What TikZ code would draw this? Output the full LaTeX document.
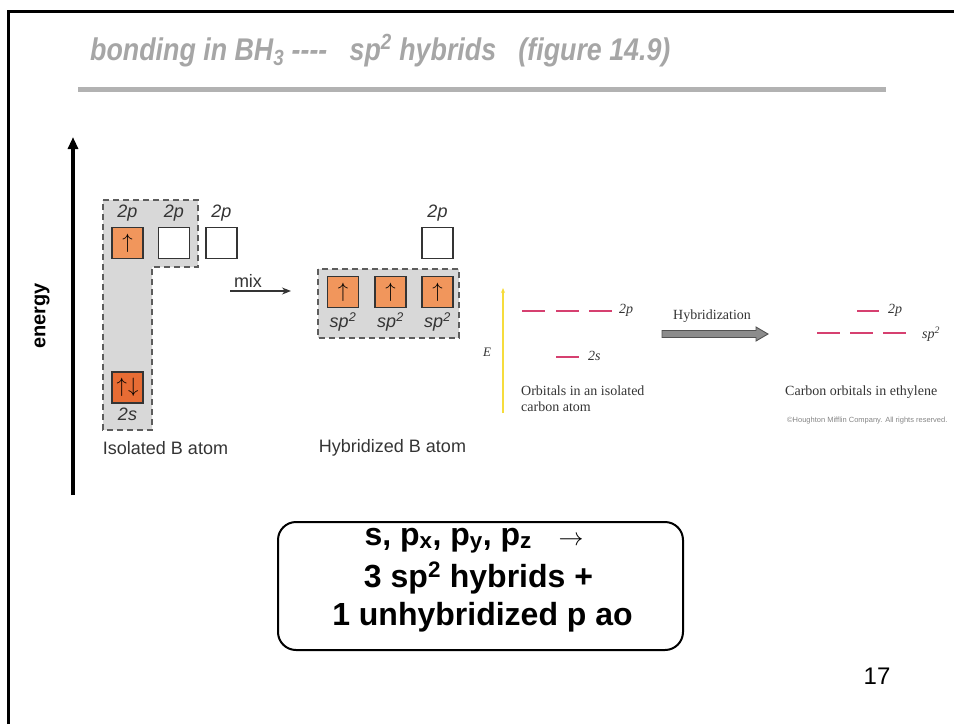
\documentclass[tikz,border=0pt]{standalone}
\usepackage{fontspec}
\setmainfont{Liberation Sans}
\newfontfamily\serif{Liberation Serif}
\usetikzlibrary{arrows.meta}

\definecolor{titlegray}{RGB}{166,166,166}
\definecolor{bargray}{RGB}{178,178,178}
\definecolor{shade}{RGB}{216,216,216}
\definecolor{orangeL}{RGB}{241,150,92}
\definecolor{orangeD}{RGB}{231,108,52}
\definecolor{ink}{RGB}{52,52,52}
\definecolor{levelred}{RGB}{214,64,112}
\definecolor{axisyellow}{RGB}{246,220,60}
\definecolor{blockgray}{RGB}{140,140,140}

\tikzset{
  orb/.style={draw=ink, line width=1.3pt, minimum size=31pt, inner sep=0pt,
              font=\fontsize{20}{20}\selectfont},
  lbl/.style={text=ink, inner sep=0pt, font=\fontsize{18}{20}\selectfont},
  hybregion/.style={fill=shade, draw=ink!80, line width=1.3pt, dash pattern=on 6pt off 4pt},
  level/.style={draw=levelred, line width=1.6pt},
  small/.style={inner sep=0pt, text=ink, font=\serif\fontsize{14}{16}\selectfont},
  bold24/.style={inner sep=0pt, font=\bfseries\fontsize{32}{38}\selectfont},
}

\begin{document}
\begin{tikzpicture}[x=1pt,y=-1pt]
\useasboundingbox (0,0) rectangle (954,724);

% slide frame
\draw[line width=3pt] (8,724) -- (8,11) -- (954,11);

% heading and rule
\node[anchor=base west, inner sep=0pt, text=titlegray,
      font=\bfseries\itshape\fontsize{26.8}{30}\selectfont] (title) at (90,60)
  {\scalebox{1}[1.17]{bonding in BH\textsubscript{3}\ -{}-{}-{}-\ \ \ sp\textsuperscript{2} hybrids\ \ \ (figure 14.9)}};
\draw[bargray, line width=5.5pt] (78,89.5) -- (886,89.5);

% energy axis
\coordinate (ebot) at (73,495);
\coordinate (etop) at (73,137);
\draw[line width=3.5pt, -{Triangle[length=12pt,width=10pt]}] (ebot) -- (etop);
\node[rotate=90, inner sep=0pt, font=\bfseries\fontsize{20}{20}\selectfont] (elabel) at (42,316) {energy};

% isolated B atom: shaded orbitals that mix
\draw[hybregion] (103,200) -- (198,200) -- (198,267) -- (152,267) -- (152,430) -- (103,430) -- cycle;
\node[orb, fill=orangeL] (p1) at (127.5,243) {$\uparrow$};
\node[orb, fill=white]   (p2) at (174,243) {};
\node[orb, fill=white]   (p3) at (221.5,243) {};
\node[orb, fill=orangeD] (s)  at (127.5,387.5) {$\uparrow\mkern1mu\downarrow$};
\node[lbl, font=\itshape\fontsize{18}{20}\selectfont] (lp1) at (127.5,213) {2p};
\node[lbl, font=\itshape\fontsize{18}{20}\selectfont] (lp2) at (174,213) {2p};
\node[lbl, font=\itshape\fontsize{18}{20}\selectfont] (lp3) at (221.5,213) {2p};
\node[lbl, font=\itshape\fontsize{18}{20}\selectfont] (ls)  at (127.5,414) {2s};
\node[lbl] (iso) at (165.5,448) {Isolated B atom};

% mixing arrow
\coordinate (mixa) at (230,291);
\coordinate (mixb) at (291,291);
\draw[ink, line width=1.3pt, -{Stealth[length=9pt,width=7pt]}] (mixa) -- (mixb);
\node[lbl] (mix) at (248,281) {mix};

% hybridized B atom
\draw[hybregion] (318,269) rectangle (459,338);
\node[orb, fill=orangeL] (h1) at (343,292) {$\uparrow$};
\node[orb, fill=orangeL] (h2) at (390.5,292) {$\uparrow$};
\node[orb, fill=orangeL] (h3) at (437.5,292) {$\uparrow$};
\node[orb, fill=white]   (pz) at (437.5,243) {};
\node[lbl, font=\itshape\fontsize{18}{20}\selectfont] (lpz) at (437.5,213) {2p};
\foreach \n/\x in {sa/343, sb/390.5, sc/437.5}
  \node[lbl, font=\itshape\fontsize{18}{20}\selectfont] (\n) at (\x,322) {sp\textsuperscript{2}};
\node[lbl] (hyb) at (392.5,448) {Hybridized B atom};

% carbon: isolated atom levels
\coordinate (ya) at (503,413);
\coordinate (yb) at (503,288);
\draw[axisyellow, line width=1.3pt, -{Stealth[length=5pt,width=4pt]}] (ya) -- (yb);
\node[small, font=\serif\itshape\fontsize{13}{14}\selectfont] (E) at (487,352) {E};
\foreach \a in {522,556,589}
  \draw[level] (\a,311) -- ++(23,0);
\draw[level] (556,357) -- ++(23,0);
\node[small, anchor=west, font=\serif\itshape\fontsize{14}{16}\selectfont] (c2p) at (619,310) {2p};
\node[small, anchor=west, font=\serif\itshape\fontsize{14}{16}\selectfont] (c2s) at (588,356) {2s};
\node[small, anchor=west] (orb1) at (521,391) {Orbitals in an isolated};
\node[small, anchor=west] (orb2) at (521,407) {carbon atom};

% hybridization block arrow
\node[small, anchor=west] (hlab) at (673,316) {Hybridization};
\draw[fill=blockgray, draw=ink!85, line width=0.9pt]
  (662,330.5) -- (756,330.5) -- (756,327) -- (768,334) -- (756,341) -- (756,337.5) -- (662,337.5) -- cycle;

% carbon: orbitals in ethylene
\draw[level] (857,311) -- ++(22,0);
\foreach \a in {817,850,883}
  \draw[level] (\a,333) -- ++(23,0);
\node[small, anchor=west, font=\serif\itshape\fontsize{14}{16}\selectfont] (e2p) at (888,310) {2p};
\node[small, anchor=west, font=\serif\itshape\fontsize{14}{16}\selectfont] (esp) at (922,334) {sp\textsuperscript{2}};
\node[small, anchor=west] (eth) at (785,392) {Carbon orbitals in ethylene};
\node[inner sep=0pt, anchor=west, text=ink!60, font=\fontsize{7.5}{8}\selectfont] (copy) at (787,421)
  {\textcopyright Houghton Mifflin Company. All rights reserved.};

% summary box
\node[draw, line width=2pt, rounded corners=18pt, minimum width=405pt, minimum height=128pt] (sum) at (480.5,586) {};
\node[bold24, anchor=base] (l1) at (474,545)
  {s, p\textsubscript{x}, p\textsubscript{y}, p\textsubscript{z}\ \ \ \mdseries$\rightarrow$};
\node[bold24, anchor=base] (l2) at (478.5,587) {3 sp\textsuperscript{2} hybrids +};
\node[bold24, anchor=base] (l3) at (482.5,625) {1 unhybridized p ao};

% page number
\node[inner sep=0pt, font=\fontsize{24}{26}\selectfont] (pg) at (877,676) {17};
\end{tikzpicture}
\end{document}
